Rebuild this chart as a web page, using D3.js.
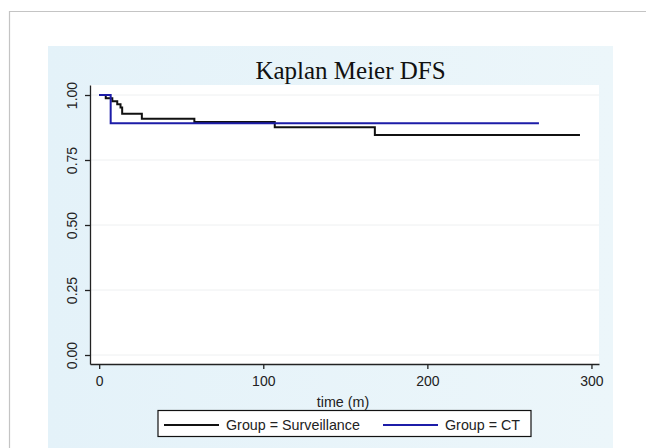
<!DOCTYPE html>
<html>
<head>
<meta charset="utf-8">
<script src="https://cdn.jsdelivr.net/npm/d3@7"></script>
<style>
  body { margin: 0; background: #fff; }
  svg { display: block; }
</style>
</head>
<body>
<svg width="646" height="448"></svg>
<script>
// Kaplan-Meier step data
const survTime = [0, 4, 8, 11, 13, 14, 26, 58, 107, 168, 293];
const survS = [1.0, 0.988, 0.976, 0.964, 0.952, 0.928, 0.909, 0.896, 0.876, 0.846, 0.846];
const ctTime = [0, 7, 268];
const ctS = [1.0, 0.891, 0.891];

const xTicks = [0, 100, 200, 300];
const yTicks = [0, 0.25, 0.5, 0.75, 1];
const legendLabels = ['Group = Surveillance', 'Group = CT'];
const colors = ['#111', '#1c1ca8'];

const svg = d3.select('svg');

// outer frame
svg.append('path')
  .attr('d', 'M9.5,448 V11.5 H646')
  .attr('fill', 'none')
  .attr('stroke', '#c4c4c4')
  .attr('stroke-width', 1.2);

// light blue panel
const grad = svg.append('defs').append('linearGradient')
  .attr('id', 'bg').attr('x1', 0).attr('x2', 1).attr('y1', 0).attr('y2', 0);
grad.append('stop').attr('offset', 0).attr('stop-color', '#e4f2f9');
grad.append('stop').attr('offset', 1).attr('stop-color', '#ecf6fa');
svg.append('rect')
  .attr('x', 48).attr('y', 46).attr('width', 565).attr('height', 402)
  .attr('fill', 'url(#bg)');

// plot region
const pLeft = 90, pRight = 599, pTop = 85, pBottom = 364;
svg.append('rect')
  .attr('x', pLeft).attr('y', pTop)
  .attr('width', pRight - pLeft).attr('height', pBottom - pTop)
  .attr('fill', '#fff');

const x = d3.scaleLinear().domain([-5.6, 304.6]).range([pLeft, pRight]);
const y = d3.scaleLinear().domain([-0.0346, 1.0385]).range([pBottom, pTop]);

// faint gridlines
svg.append('g')
  .selectAll('line')
  .data(yTicks)
  .enter()
  .append('line')
  .attr('x1', pLeft).attr('x2', pRight)
  .attr('y1', (d) => y(d)).attr('y2', (d) => y(d))
  .attr('stroke', '#eef0f1')
  .attr('stroke-width', 1);

// curves
const line = d3.line()
  .x((d) => x(d[0]))
  .y((d) => y(d[1]))
  .curve(d3.curveStepAfter);

const series = [
  d3.zip(survTime, survS),
  d3.zip(ctTime, ctS),
];
svg.append('g')
  .selectAll('path')
  .data(series)
  .enter()
  .append('path')
  .attr('d', line)
  .attr('fill', 'none')
  .attr('stroke', (d, i) => colors[i])
  .attr('stroke-width', 2);

// axes
const xAxis = svg.append('g')
  .attr('transform', `translate(0,${pBottom})`)
  .call(d3.axisBottom(x).tickValues(xTicks).tickSize(5).tickPadding(5).tickSizeOuter(0));
const yAxis = svg.append('g')
  .attr('transform', `translate(${pLeft},0)`)
  .call(d3.axisLeft(y).tickValues(yTicks).tickFormat(d3.format('.2f')).tickSize(5).tickSizeOuter(0));

[xAxis, yAxis].forEach((g) => {
  g.select('.domain').attr('stroke', '#222').attr('stroke-width', 1.3);
  g.selectAll('.tick line').attr('stroke', '#222').attr('stroke-width', 1.3);
  g.selectAll('text')
    .attr('fill', '#222')
    .style('font-family', 'Liberation Sans, Arial, sans-serif')
    .style('font-size', '14px');
});
xAxis.selectAll('text').attr('y', 12);

// rotate y tick labels
yAxis.selectAll('.tick text')
  .attr('x', null).attr('dy', null)
  .attr('transform', 'translate(-18,0) rotate(-90)')
  .attr('text-anchor', 'middle')
  .attr('dominant-baseline', 'central');

// title
svg.append('text')
  .attr('x', 350.5).attr('y', 79)
  .attr('text-anchor', 'middle')
  .style('font-family', 'Liberation Serif, Times New Roman, serif')
  .style('font-size', '25px')
  .attr('fill', '#111')
  .text('Kaplan Meier DFS');

// x axis title
svg.append('text')
  .attr('x', 343).attr('y', 406.5)
  .attr('text-anchor', 'middle')
  .style('font-family', 'Liberation Sans, Arial, sans-serif')
  .style('font-size', '14.3px')
  .attr('fill', '#222')
  .text('time (m)');

// legend
const legend = svg.append('g');
legend.append('rect')
  .attr('x', 158).attr('y', 410.5).attr('width', 373).attr('height', 26)
  .attr('fill', '#fff').attr('stroke', '#111').attr('stroke-width', 1.2);

const legendX = [164, 383];
const items = legend.selectAll('g')
  .data(legendLabels)
  .enter()
  .append('g')
  .attr('transform', (d, i) => `translate(${legendX[i]},425)`);
items.append('line')
  .attr('x1', 0).attr('x2', 55)
  .attr('stroke', (d, i) => colors[i])
  .attr('stroke-width', 2);
items.append('text')
  .attr('x', 62).attr('y', 5)
  .style('font-family', 'Liberation Sans, Arial, sans-serif')
  .style('font-size', '14.3px')
  .attr('fill', '#222')
  .text((d) => d);
</script>
</body>
</html>
